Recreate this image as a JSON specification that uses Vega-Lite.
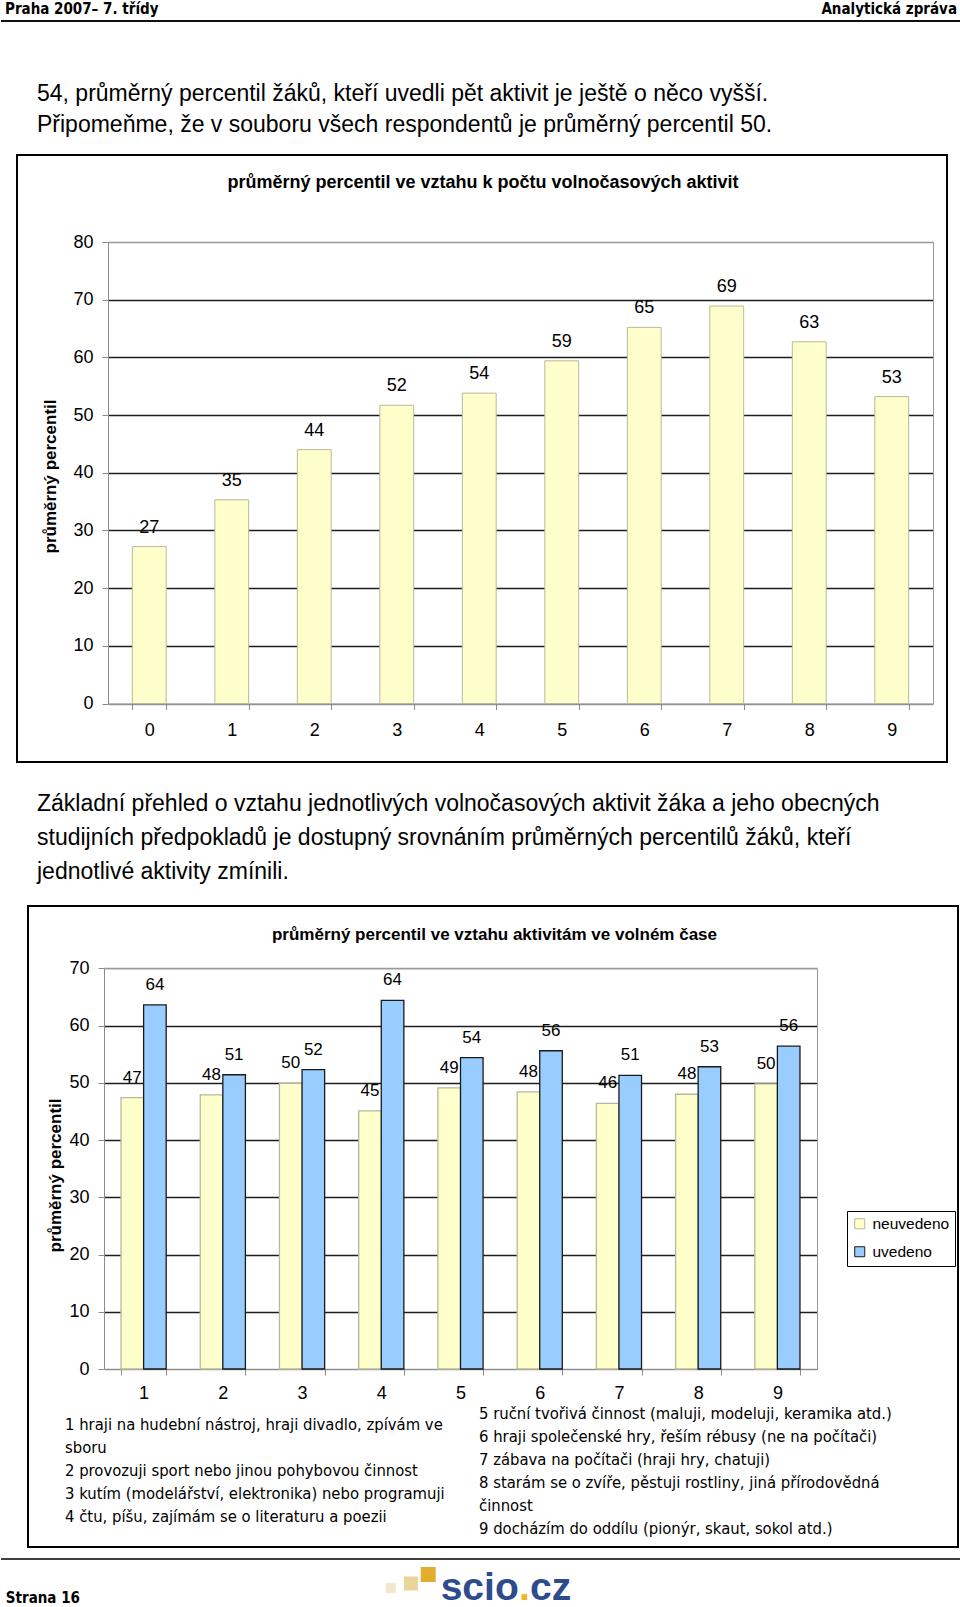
{
  "$schema": "https://vega.github.io/schema/vega-lite/v6.json",
  "padding": 0,
  "background": "white",
  "spacing": 0,
  "config": {
    "view": {"stroke": null},
    "font": "Liberation Sans",
    "text": {"font": "Liberation Sans", "color": "black"},
    "axis": {"labelFont": "Liberation Sans", "titleFont": "Liberation Sans", "labelColor": "black", "titleColor": "black"},
    "legend": {"labelFont": "Liberation Sans"}
  },
  "vconcat": [
    {
      "width": 960,
      "height": 21,
      "data": {"values": [
        {"side": "L", "text": "Praha 2007– 7. třídy"},
        {"side": "R", "text": "Analytická zpráva"}
      ]},
      "layer": [
        {
          "transform": [{"filter": "datum.side === 'L'"}],
          "mark": {"type": "text", "align": "left", "fontWeight": "bold", "fontSize": 15, "font": "DejaVu Sans Condensed, Liberation Sans", "dy": -1.5},
          "encoding": {
            "x": {"field": "side", "type": "nominal", "scale": {"type": "point", "domain": ["L", "R"], "range": [4, 956], "padding": 0}, "axis": null},
            "text": {"field": "text"}
          }
        },
        {
          "transform": [{"filter": "datum.side === 'R'"}],
          "mark": {"type": "text", "align": "right", "fontWeight": "bold", "fontSize": 15, "font": "DejaVu Sans Condensed, Liberation Sans", "dy": -1.5},
          "encoding": {
            "x": {"field": "side", "type": "nominal", "scale": {"type": "point", "domain": ["L", "R"], "range": [4, 956], "padding": 0}, "axis": null},
            "text": {"field": "text"}
          }
        },
        {
          "mark": {"type": "rule", "color": "black", "strokeWidth": 1.5},
          "encoding": {
            "y": {"datum": 0, "type": "quantitative", "scale": {"domain": [0, 1]}, "axis": null}
          }
        }
      ]
    },
    {
      "width": 960,
      "height": 132,
      "data": {"values": [
        {"line": 1, "text": "54, průměrný percentil žáků, kteří uvedli pět aktivit je ještě o něco vyšší."},
        {"line": 2, "text": "Připomeňme, že v souboru všech respondentů je průměrný percentil 50."}
      ]},
      "mark": {"type": "text", "align": "left", "baseline": "middle", "fontSize": 23},
      "encoding": {
        "x": {"datum": 0, "type": "quantitative", "scale": {"domain": [0, 1], "range": [36, 953]}, "axis": null},
        "y": {"field": "line", "type": "quantitative", "scale": {"domain": [1, 2], "range": [72, 103]}, "axis": null},
        "text": {"field": "text"}
      }
    },
    {
      "spacing": 0,
      "hconcat": [
        {"width": 15, "height": 607, "data": {"values": []}, "mark": "point"},
        {
          "width": 930,
          "height": 607,
          "view": {"stroke": "black", "strokeWidth": 2},
          "data": {"values": [
            {"n": "0", "v": 27.2},
            {"n": "1", "v": 35.3},
            {"n": "2", "v": 44.0},
            {"n": "3", "v": 51.7},
            {"n": "4", "v": 53.8},
            {"n": "5", "v": 59.4},
            {"n": "6", "v": 65.2},
            {"n": "7", "v": 68.9},
            {"n": "8", "v": 62.7},
            {"n": "9", "v": 53.2}
          ]},
          "layer": [
            {
              "mark": {"type": "bar", "fill": "#FFFFCC", "stroke": "#B8B89C", "strokeWidth": 1},
              "encoding": {
                "x": {"field": "n", "type": "nominal",
                  "scale": {"type": "band", "range": [91, 916], "paddingInner": 0.59, "paddingOuter": 0.295},
                  "axis": {"orient": "bottom", "offset": -58.5, "title": null, "labelAngle": 0, "labelFontSize": 18, "labelPadding": 12, "tickBand": "extent", "tickSize": 6, "tickColor": "#8C8C8C", "domainColor": "#8C8C8C", "grid": false}},
                "y": {"field": "v", "type": "quantitative",
                  "scale": {"domain": [0, 80], "range": [548.5, 87], "nice": false},
                  "axis": {"orient": "left", "offset": -91, "values": [0, 10, 20, 30, 40, 50, 60, 70, 80],
                    "title": "průměrný percentil", "titleFontSize": 17, "titleFontWeight": "bold", "titleAngle": 270,
                    "titleX": -58, "titleY": 321, "titleAlign": "center", "titleBaseline": "middle",
                    "labelFontSize": 18, "labelPadding": 9, "tickSize": 6, "tickColor": "#8C8C8C", "domainColor": "#8C8C8C",
                    "grid": true, "gridWidth": 1.6,
                    "gridColor": {"condition": {"test": "datum.value === 0 || datum.value === 80", "value": "#999999"}, "value": "#1E1E1E"}}}
              }
            },
            {
              "mark": {"type": "text", "fontSize": 18, "baseline": "middle", "dy": -19},
              "encoding": {
                "x": {"field": "n", "type": "nominal",
                  "scale": {"type": "band", "range": [91, 916], "paddingInner": 0.59, "paddingOuter": 0.295},
                  "axis": {"orient": "top", "offset": -87, "labels": false, "ticks": false, "grid": false, "domainColor": "#999999",
                    "title": "průměrný percentil ve vztahu k počtu volnočasových aktivit", "titleFontSize": 18, "titleFontWeight": "bold",
                    "titleX": 465.5, "titleY": -60, "titleAlign": "center", "titleBaseline": "middle"}},
                "y": {"field": "v", "type": "quantitative",
                  "scale": {"domain": [0, 80], "range": [548.5, 87], "nice": false},
                  "axis": {"orient": "right", "offset": -14, "labels": false, "ticks": false, "grid": false, "title": null, "domainColor": "#999999"}},
                "text": {"field": "v", "type": "quantitative", "format": ".0f"}
              }
            }
          ],
          "resolve": {"axis": {"x": "independent", "y": "independent"}}
        }
      ]
    },
    {
      "width": 960,
      "height": 142,
      "data": {"values": [
        {"line": 1, "text": "Základní přehled o vztahu jednotlivých volnočasových aktivit žáka a jeho obecných"},
        {"line": 2, "text": "studijních předpokladů je dostupný srovnáním průměrných percentilů žáků, kteří"},
        {"line": 3, "text": "jednotlivé aktivity zmínili."}
      ]},
      "mark": {"type": "text", "align": "left", "baseline": "middle", "fontSize": 23},
      "encoding": {
        "x": {"datum": 0, "type": "quantitative", "scale": {"domain": [0, 1], "range": [36, 953]}, "axis": null},
        "y": {"field": "line", "type": "quantitative", "scale": {"domain": [1, 3], "range": [41, 109]}, "axis": null},
        "text": {"field": "text"}
      }
    },
    {
      "spacing": 0,
      "hconcat": [
        {"width": 26, "height": 641, "data": {"values": []}, "mark": "point"},
        {
          "width": 930,
          "height": 641,
          "view": {"stroke": "black", "strokeWidth": 2},
          "layer": [
            {
              "data": {"values": [
                {"cat": "1", "grp": "neuvedeno", "v": 47.4}, {"cat": "1", "grp": "uvedeno", "v": 63.6},
                {"cat": "2", "grp": "neuvedeno", "v": 47.9}, {"cat": "2", "grp": "uvedeno", "v": 51.4},
                {"cat": "3", "grp": "neuvedeno", "v": 49.9}, {"cat": "3", "grp": "uvedeno", "v": 52.3},
                {"cat": "4", "grp": "neuvedeno", "v": 45.1}, {"cat": "4", "grp": "uvedeno", "v": 64.4},
                {"cat": "5", "grp": "neuvedeno", "v": 49.1}, {"cat": "5", "grp": "uvedeno", "v": 54.4},
                {"cat": "6", "grp": "neuvedeno", "v": 48.4}, {"cat": "6", "grp": "uvedeno", "v": 55.6},
                {"cat": "7", "grp": "neuvedeno", "v": 46.4}, {"cat": "7", "grp": "uvedeno", "v": 51.3},
                {"cat": "8", "grp": "neuvedeno", "v": 48.0}, {"cat": "8", "grp": "uvedeno", "v": 52.8},
                {"cat": "9", "grp": "neuvedeno", "v": 49.8}, {"cat": "9", "grp": "uvedeno", "v": 56.4}
              ]},
              "layer": [
                {
                  "mark": {"type": "bar", "strokeWidth": 1.3},
                  "encoding": {
                    "x": {"field": "cat", "type": "nominal",
                      "scale": {"type": "band", "range": [76, 789], "paddingInner": 0.43, "paddingOuter": 0.215},
                      "axis": {"orient": "bottom", "offset": -178, "title": null, "labelAngle": 0, "labelFontSize": 18, "labelPadding": 9, "tickBand": "extent", "tickSize": 6, "tickColor": "#8C8C8C", "domainColor": "#8C8C8C", "grid": false}},
                    "xOffset": {"field": "grp", "type": "nominal", "scale": {"domain": ["neuvedeno", "uvedeno"], "paddingInner": 0, "paddingOuter": 0}},
                    "y": {"field": "v", "type": "quantitative",
                      "scale": {"domain": [0, 70], "range": [463, 62.3], "nice": false},
                      "axis": {"orient": "left", "offset": -76, "values": [0, 10, 20, 30, 40, 50, 60, 70],
                        "title": "průměrný percentil", "titleFontSize": 17, "titleFontWeight": "bold", "titleAngle": 270,
                        "titleX": -49, "titleY": 269, "titleAlign": "center", "titleBaseline": "middle",
                        "labelFontSize": 18, "labelPadding": 9, "tickSize": 6, "tickColor": "#8C8C8C", "domainColor": "#8C8C8C",
                        "grid": true, "gridWidth": 1.6,
                        "gridColor": {"condition": {"test": "datum.value === 0 || datum.value === 70", "value": "#999999"}, "value": "#1E1E1E"}}},
                    "fill": {"field": "grp", "type": "nominal",
                      "scale": {"domain": ["neuvedeno", "uvedeno"], "range": ["#FFFFCC", "#99CCFF"]},
                      "legend": {"orient": "none", "legendX": 846, "legendY": 1211, "title": null, "strokeColor": "black", "fillColor": "white", "padding": 5, "labelFontSize": 15.5, "labelColor": "black", "symbolType": "square", "symbolSize": 100, "symbolStrokeWidth": 1, "rowPadding": 11, "labelOffset": 5}},
                    "stroke": {"field": "grp", "type": "nominal",
                      "scale": {"domain": ["neuvedeno", "uvedeno"], "range": ["#B8B89C", "#1A1A1A"]},
                      "legend": {"orient": "none", "legendX": 846, "legendY": 1211, "title": null, "strokeColor": "black", "fillColor": "white", "padding": 5, "labelFontSize": 15.5, "labelColor": "black", "symbolType": "square", "symbolSize": 100, "symbolStrokeWidth": 1, "rowPadding": 11, "labelOffset": 5}}
                  }
                },
                {
                  "mark": {"type": "text", "fontSize": 17, "baseline": "middle", "dy": -20},
                  "encoding": {
                    "x": {"field": "cat", "type": "nominal",
                      "scale": {"type": "band", "range": [76, 789], "paddingInner": 0.43, "paddingOuter": 0.215},
                      "axis": {"orient": "top", "offset": -62.3, "labels": false, "ticks": false, "grid": false, "domainColor": "#999999",
                        "title": "průměrný percentil ve vztahu aktivitám ve volném čase", "titleFontSize": 17, "titleFontWeight": "bold",
                        "titleX": 466, "titleY": -34.3, "titleAlign": "center", "titleBaseline": "middle"}},
                    "xOffset": {"field": "grp", "type": "nominal", "scale": {"domain": ["neuvedeno", "uvedeno"], "paddingInner": 0, "paddingOuter": 0}},
                    "y": {"field": "v", "type": "quantitative",
                      "scale": {"domain": [0, 70], "range": [463, 62.3], "nice": false},
                      "axis": {"orient": "right", "offset": -141, "labels": false, "ticks": false, "grid": false, "title": null, "domainColor": "#999999"}},
                    "text": {"field": "v", "type": "quantitative", "format": ".0f"}
                  }
                }
              ],
              "resolve": {"axis": {"x": "independent", "y": "independent"}}
            },
            {
              "data": {"values": [
                {"col": "L", "row": 0.5, "text": "1 hraji na hudební nástroj, hraji divadlo, zpívám ve"},
                {"col": "L", "row": 1.5, "text": "sboru"},
                {"col": "L", "row": 2.5, "text": "2 provozuji sport nebo jinou pohybovou činnost"},
                {"col": "L", "row": 3.5, "text": "3 kutím (modelářství, elektronika) nebo programuji"},
                {"col": "L", "row": 4.5, "text": "4 čtu, píšu, zajímám se o literaturu a poezii"},
                {"col": "R", "row": 0, "text": "5 ruční tvořivá činnost (maluji, modeluji, keramika atd.)"},
                {"col": "R", "row": 1, "text": "6 hraji společenské hry, řeším rébusy (ne na počítači)"},
                {"col": "R", "row": 2, "text": "7 zábava na počítači (hraji hry, chatuji)"},
                {"col": "R", "row": 3, "text": "8 starám se o zvíře, pěstuji rostliny, jiná přírodovědná"},
                {"col": "R", "row": 4, "text": "činnost"},
                {"col": "R", "row": 5, "text": "9 docházím do oddílu (pionýr, skaut, sokol atd.)"}
              ]},
              "mark": {"type": "text", "align": "left", "baseline": "middle", "fontSize": 16.5, "font": "DejaVu Sans Condensed, Liberation Sans"},
              "encoding": {
                "x": {"field": "col", "type": "nominal", "scale": {"type": "point", "domain": ["L", "R"], "range": [37, 451], "padding": 0}, "axis": null},
                "y": {"field": "row", "type": "quantitative", "scale": {"domain": [0, 5], "range": [507.8, 622.6]}, "axis": null},
                "text": {"field": "text"}
              }
            }
          ],
          "resolve": {"scale": {"x": "independent", "y": "independent"}}
        }
      ]
    },
    {
      "width": 960,
      "height": 59,
      "data": {"values": [{"page": "Strana 16"}]},
      "layer": [
        {
          "mark": {"type": "rule", "color": "black", "strokeWidth": 1.5},
          "encoding": {
            "y": {"datum": 0, "type": "quantitative", "scale": {"domain": [0, 1], "range": [11, 50]}, "axis": null}
          }
        },
        {
          "mark": {"type": "text", "align": "left", "baseline": "middle", "fontWeight": "bold", "fontSize": 15, "font": "DejaVu Sans Condensed, Liberation Sans"},
          "encoding": {
            "x": {"datum": 0.005, "type": "quantitative", "scale": {"domain": [0, 1], "range": [0, 960]}, "axis": null},
            "y": {"datum": 1, "type": "quantitative", "scale": {"domain": [0, 1], "range": [11, 50]}, "axis": null},
            "text": {"field": "page"}
          }
        },
        {
          "mark": {"type": "point", "shape": "square", "filled": true, "size": 100, "color": "#F2E6CC", "opacity": 1},
          "encoding": {
            "x": {"datum": 0.406, "type": "quantitative", "scale": {"domain": [0, 1], "range": [0, 960]}, "axis": null},
            "y": {"datum": 0.744, "type": "quantitative", "scale": {"domain": [0, 1], "range": [11, 50]}, "axis": null}
          }
        },
        {
          "mark": {"type": "point", "shape": "square", "filled": true, "size": 196, "color": "#EAD49C", "opacity": 1},
          "encoding": {
            "x": {"datum": 0.427, "type": "quantitative", "scale": {"domain": [0, 1], "range": [0, 960]}, "axis": null},
            "y": {"datum": 0.628, "type": "quantitative", "scale": {"domain": [0, 1], "range": [11, 50]}, "axis": null}
          }
        },
        {
          "mark": {"type": "point", "shape": "square", "filled": true, "size": 225, "color": "#E0AE2C", "opacity": 1},
          "encoding": {
            "x": {"datum": 0.445, "type": "quantitative", "scale": {"domain": [0, 1], "range": [0, 960]}, "axis": null},
            "y": {"datum": 0.397, "type": "quantitative", "scale": {"domain": [0, 1], "range": [11, 50]}, "axis": null}
          }
        },
        {
          "mark": {"type": "text", "align": "left", "baseline": "alphabetic", "fontWeight": "bold", "fontSize": 39, "color": "#2D4B8E", "text": "scio"},
          "encoding": {
            "x": {"datum": 0.458, "type": "quantitative", "scale": {"domain": [0, 1], "range": [0, 960]}, "axis": null},
            "y": {"datum": 1.05, "type": "quantitative", "scale": {"domain": [0, 1], "range": [11, 50]}, "axis": null}
          }
        },
        {
          "mark": {"type": "text", "align": "left", "baseline": "alphabetic", "fontWeight": "bold", "fontSize": 39, "color": "#F0B429", "text": "."},
          "encoding": {
            "x": {"datum": 0.5396, "type": "quantitative", "scale": {"domain": [0, 1], "range": [0, 960]}, "axis": null},
            "y": {"datum": 1.05, "type": "quantitative", "scale": {"domain": [0, 1], "range": [11, 50]}, "axis": null}
          }
        },
        {
          "mark": {"type": "text", "align": "left", "baseline": "alphabetic", "fontWeight": "bold", "fontSize": 39, "color": "#2D4B8E", "text": "cz"},
          "encoding": {
            "x": {"datum": 0.5510, "type": "quantitative", "scale": {"domain": [0, 1], "range": [0, 960]}, "axis": null},
            "y": {"datum": 1.05, "type": "quantitative", "scale": {"domain": [0, 1], "range": [11, 50]}, "axis": null}
          }
        }
      ]
    }
  ]
}
